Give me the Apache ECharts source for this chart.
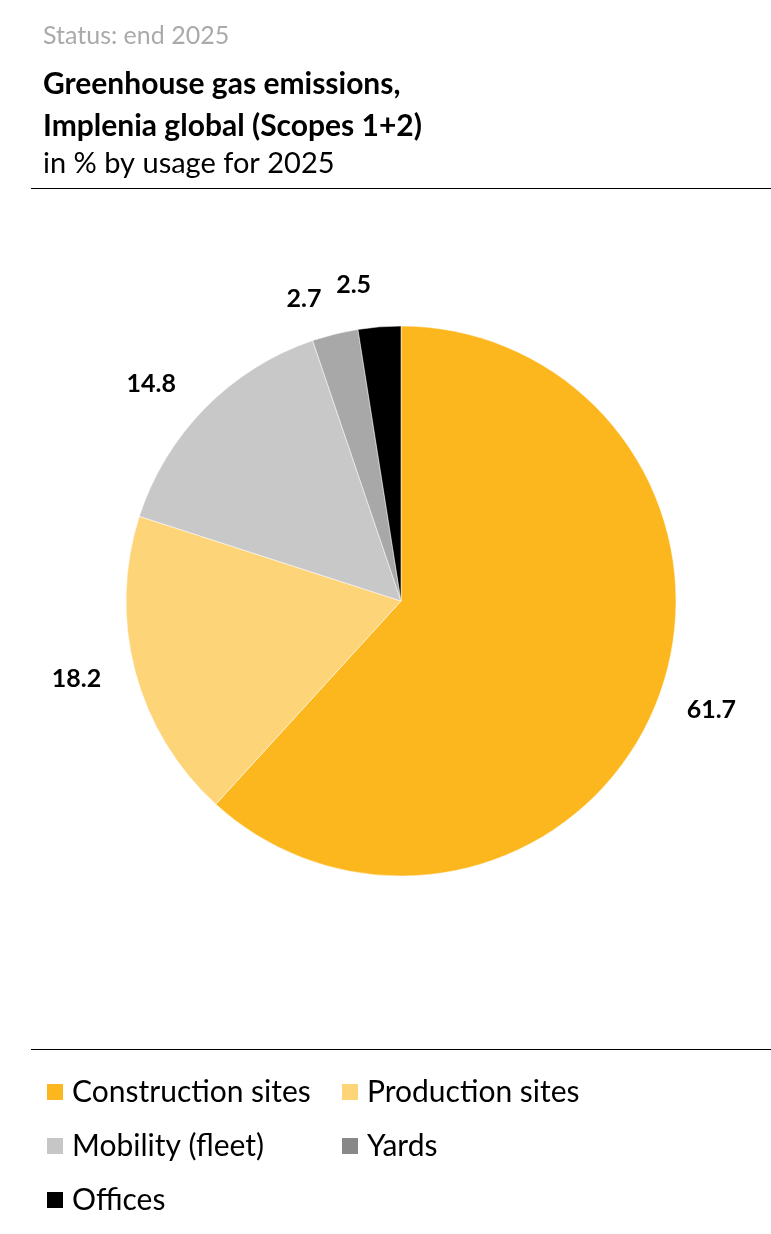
<!DOCTYPE html>
<html>
<head>
<meta charset="utf-8">
<script src="https://cdn.jsdelivr.net/npm/echarts@6/dist/echarts.min.js"></script>
<style>
  html, body { margin: 0; padding: 0; background: #fff; }
  #chart { width: 771px; height: 1234px; }
</style>
</head>
<body>
<div id="chart"></div>
<script>
// data
const categories = ['Construction sites', 'Production sites', 'Mobility (fleet)', 'Yards', 'Offices'];
const shares = [61.7, 18.2, 14.8, 2.7, 2.5];

// styles
const sliceColors = ['#fdb71e', '#fed479', '#c8c8c8', '#a8a8a8', '#000000'];
const legendColors = ['#fdb71e', '#fed479', '#c6c6c6', '#888888', '#000000'];
const labelGap = [26, 30, 34, 36, 42]; // distance of the value labels from the rim

const FONT = 'Lato';

let chart = echarts.init(document.getElementById('chart'));

function legendItems(names) {
  return names.map(n => {
    let i = categories.indexOf(n);
    return { name: n, itemStyle: { color: legendColors[i] } };
  });
}

const legendBase = {
  orient: 'vertical',
  top: 1072,
  icon: 'rect',
  itemWidth: 18,
  itemHeight: 18,
  itemGap: 24,
  selectedMode: false,
  textStyle: { fontFamily: FONT, fontSize: 30, lineHeight: 30, color: '#000', padding: [0, 0, 0, 3] }
};

let option = {
  backgroundColor: '#fff',
  animation: false,
  title: [
    {
      text: 'Status: end 2025',
      left: 38, top: 16,
      textStyle: { fontFamily: FONT, fontSize: 25, lineHeight: 30, fontWeight: 'normal', color: '#aaaaaa' }
    },
    {
      text: 'Greenhouse gas emissions,\nImplenia global (Scopes 1+2)',
      left: 38, top: 58,
      textStyle: { fontFamily: FONT, fontSize: 30, fontWeight: 'bold', color: '#000', lineHeight: 42 }
    },
    {
      text: 'in % by usage for 2025',
      left: 38, top: 142,
      textStyle: { fontFamily: FONT, fontSize: 29, lineHeight: 34, fontWeight: 'normal', color: '#000' }
    }
  ],
  legend: [
    Object.assign({}, legendBase, { left: 40, data: legendItems(['Construction sites', 'Mobility (fleet)', 'Offices']) }),
    Object.assign({}, legendBase, { left: 335, data: legendItems(['Production sites', 'Yards']) })
  ],
  graphic: [
    { type: 'line', shape: { x1: 31, y1: 188.5, x2: 771, y2: 188.5 }, style: { stroke: '#000', lineWidth: 1 } },
    { type: 'line', shape: { x1: 31, y1: 1049.5, x2: 771, y2: 1049.5 }, style: { stroke: '#000', lineWidth: 1 } }
  ],
  series: [
    {
      type: 'pie',
      center: [401, 601],
      radius: [0, 275],
      startAngle: 90,
      clockwise: true,
      avoidLabelOverlap: false,
      itemStyle: { borderColor: '#fff', borderWidth: 0.5 },
      label: {
        show: true,
        position: 'outside',
        formatter: p => p.value.toFixed(1),
        fontFamily: FONT,
        fontSize: 25,
        fontWeight: 'bold',
        color: '#000'
      },
      labelLine: { show: false, length: 30, length2: 0 },
      emphasis: { disabled: true },
      data: categories.map((c, i) => ({
        name: c,
        value: shares[i],
        itemStyle: { color: sliceColors[i] },
        labelLine: { show: false, length: labelGap[i], length2: 0 }
      }))
    }
  ]
};

option && chart.setOption(option);
</script>
</body>
</html>
